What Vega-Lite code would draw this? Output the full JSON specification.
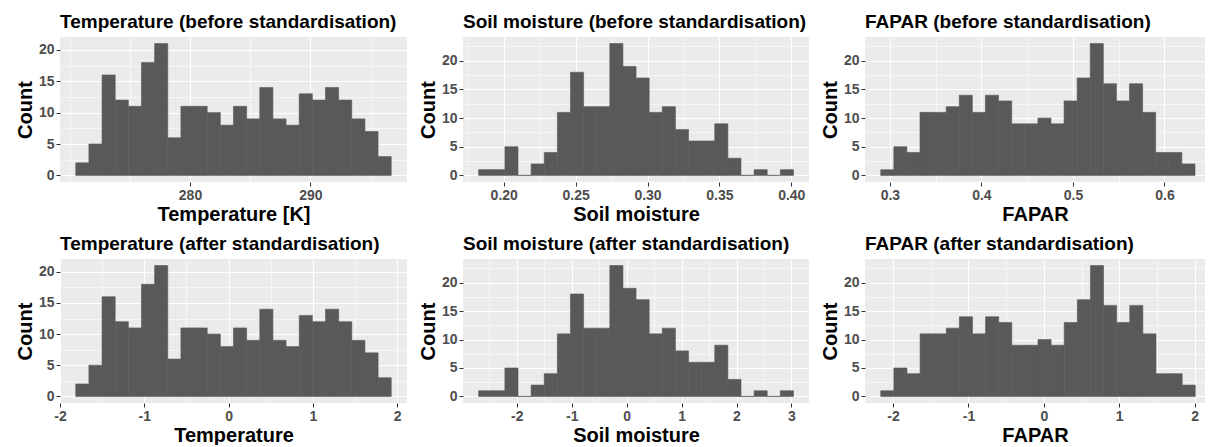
{
  "$schema": "https://vega.github.io/schema/vega-lite/v6.json",
  "background": "white",
  "padding": {"left": 15, "top": 13, "right": 0, "bottom": 0},
  "spacing": 11,
  "datasets": {
    "temp": [
      {"raw_start": 270.510, "raw_end": 271.602, "z_start": -1.813, "z_end": -1.657, "count": 2},
      {"raw_start": 271.602, "raw_end": 272.694, "z_start": -1.657, "z_end": -1.501, "count": 5},
      {"raw_start": 272.694, "raw_end": 273.786, "z_start": -1.501, "z_end": -1.345, "count": 16},
      {"raw_start": 273.786, "raw_end": 274.878, "z_start": -1.345, "z_end": -1.189, "count": 12},
      {"raw_start": 274.878, "raw_end": 275.970, "z_start": -1.189, "z_end": -1.033, "count": 11},
      {"raw_start": 275.970, "raw_end": 277.062, "z_start": -1.033, "z_end": -0.877, "count": 18},
      {"raw_start": 277.062, "raw_end": 278.154, "z_start": -0.877, "z_end": -0.721, "count": 21},
      {"raw_start": 278.154, "raw_end": 279.246, "z_start": -0.721, "z_end": -0.565, "count": 6},
      {"raw_start": 279.246, "raw_end": 280.338, "z_start": -0.565, "z_end": -0.409, "count": 11},
      {"raw_start": 280.338, "raw_end": 281.430, "z_start": -0.409, "z_end": -0.253, "count": 11},
      {"raw_start": 281.430, "raw_end": 282.522, "z_start": -0.253, "z_end": -0.097, "count": 10},
      {"raw_start": 282.522, "raw_end": 283.614, "z_start": -0.097, "z_end": 0.059, "count": 8},
      {"raw_start": 283.614, "raw_end": 284.706, "z_start": 0.059, "z_end": 0.215, "count": 11},
      {"raw_start": 284.706, "raw_end": 285.798, "z_start": 0.215, "z_end": 0.371, "count": 9},
      {"raw_start": 285.798, "raw_end": 286.890, "z_start": 0.371, "z_end": 0.527, "count": 14},
      {"raw_start": 286.890, "raw_end": 287.982, "z_start": 0.527, "z_end": 0.683, "count": 9},
      {"raw_start": 287.982, "raw_end": 289.074, "z_start": 0.683, "z_end": 0.839, "count": 8},
      {"raw_start": 289.074, "raw_end": 290.166, "z_start": 0.839, "z_end": 0.995, "count": 13},
      {"raw_start": 290.166, "raw_end": 291.258, "z_start": 0.995, "z_end": 1.151, "count": 12},
      {"raw_start": 291.258, "raw_end": 292.350, "z_start": 1.151, "z_end": 1.307, "count": 14},
      {"raw_start": 292.350, "raw_end": 293.442, "z_start": 1.307, "z_end": 1.463, "count": 12},
      {"raw_start": 293.442, "raw_end": 294.534, "z_start": 1.463, "z_end": 1.619, "count": 9},
      {"raw_start": 294.534, "raw_end": 295.626, "z_start": 1.619, "z_end": 1.775, "count": 7},
      {"raw_start": 295.626, "raw_end": 296.718, "z_start": 1.775, "z_end": 1.931, "count": 3}
    ],
    "soil": [
      {"raw_start": 0.18255, "raw_end": 0.19167, "z_start": -2.6950, "z_end": -2.4562, "count": 1},
      {"raw_start": 0.19167, "raw_end": 0.20080, "z_start": -2.4562, "z_end": -2.2173, "count": 1},
      {"raw_start": 0.20080, "raw_end": 0.20992, "z_start": -2.2173, "z_end": -1.9785, "count": 5},
      {"raw_start": 0.20992, "raw_end": 0.21904, "z_start": -1.9785, "z_end": -1.7397, "count": 0},
      {"raw_start": 0.21904, "raw_end": 0.22817, "z_start": -1.7397, "z_end": -1.5008, "count": 2},
      {"raw_start": 0.22817, "raw_end": 0.23729, "z_start": -1.5008, "z_end": -1.2620, "count": 4},
      {"raw_start": 0.23729, "raw_end": 0.24641, "z_start": -1.2620, "z_end": -1.0232, "count": 11},
      {"raw_start": 0.24641, "raw_end": 0.25553, "z_start": -1.0232, "z_end": -0.7843, "count": 18},
      {"raw_start": 0.25553, "raw_end": 0.26466, "z_start": -0.7843, "z_end": -0.5455, "count": 12},
      {"raw_start": 0.26466, "raw_end": 0.27378, "z_start": -0.5455, "z_end": -0.3067, "count": 12},
      {"raw_start": 0.27378, "raw_end": 0.28290, "z_start": -0.3067, "z_end": -0.0678, "count": 23},
      {"raw_start": 0.28290, "raw_end": 0.29203, "z_start": -0.0678, "z_end": 0.1710, "count": 19},
      {"raw_start": 0.29203, "raw_end": 0.30115, "z_start": 0.1710, "z_end": 0.4098, "count": 17},
      {"raw_start": 0.30115, "raw_end": 0.31027, "z_start": 0.4098, "z_end": 0.6487, "count": 11},
      {"raw_start": 0.31027, "raw_end": 0.31940, "z_start": 0.6487, "z_end": 0.8875, "count": 12},
      {"raw_start": 0.31940, "raw_end": 0.32852, "z_start": 0.8875, "z_end": 1.1263, "count": 8},
      {"raw_start": 0.32852, "raw_end": 0.33764, "z_start": 1.1263, "z_end": 1.3652, "count": 6},
      {"raw_start": 0.33764, "raw_end": 0.34676, "z_start": 1.3652, "z_end": 1.6040, "count": 6},
      {"raw_start": 0.34676, "raw_end": 0.35589, "z_start": 1.6040, "z_end": 1.8428, "count": 9},
      {"raw_start": 0.35589, "raw_end": 0.36501, "z_start": 1.8428, "z_end": 2.0817, "count": 3},
      {"raw_start": 0.36501, "raw_end": 0.37413, "z_start": 2.0817, "z_end": 2.3205, "count": 0},
      {"raw_start": 0.37413, "raw_end": 0.38326, "z_start": 2.3205, "z_end": 2.5593, "count": 1},
      {"raw_start": 0.38326, "raw_end": 0.39238, "z_start": 2.5593, "z_end": 2.7982, "count": 0},
      {"raw_start": 0.39238, "raw_end": 0.40150, "z_start": 2.7982, "z_end": 3.0370, "count": 1}
    ],
    "fapar": [
      {"raw_start": 0.2900, "raw_end": 0.3043, "z_start": -2.1630, "z_end": -1.9892, "count": 1},
      {"raw_start": 0.3043, "raw_end": 0.3186, "z_start": -1.9892, "z_end": -1.8153, "count": 5},
      {"raw_start": 0.3186, "raw_end": 0.3329, "z_start": -1.8153, "z_end": -1.6415, "count": 4},
      {"raw_start": 0.3329, "raw_end": 0.3472, "z_start": -1.6415, "z_end": -1.4677, "count": 11},
      {"raw_start": 0.3472, "raw_end": 0.3615, "z_start": -1.4677, "z_end": -1.2938, "count": 11},
      {"raw_start": 0.3615, "raw_end": 0.3758, "z_start": -1.2938, "z_end": -1.1200, "count": 12},
      {"raw_start": 0.3758, "raw_end": 0.3901, "z_start": -1.1200, "z_end": -0.9462, "count": 14},
      {"raw_start": 0.3901, "raw_end": 0.4044, "z_start": -0.9462, "z_end": -0.7723, "count": 11},
      {"raw_start": 0.4044, "raw_end": 0.4187, "z_start": -0.7723, "z_end": -0.5985, "count": 14},
      {"raw_start": 0.4187, "raw_end": 0.4331, "z_start": -0.5985, "z_end": -0.4247, "count": 13},
      {"raw_start": 0.4331, "raw_end": 0.4474, "z_start": -0.4247, "z_end": -0.2508, "count": 9},
      {"raw_start": 0.4474, "raw_end": 0.4617, "z_start": -0.2508, "z_end": -0.0770, "count": 9},
      {"raw_start": 0.4617, "raw_end": 0.4760, "z_start": -0.0770, "z_end": 0.0968, "count": 10},
      {"raw_start": 0.4760, "raw_end": 0.4903, "z_start": 0.0968, "z_end": 0.2707, "count": 9},
      {"raw_start": 0.4903, "raw_end": 0.5046, "z_start": 0.2707, "z_end": 0.4445, "count": 13},
      {"raw_start": 0.5046, "raw_end": 0.5189, "z_start": 0.4445, "z_end": 0.6183, "count": 17},
      {"raw_start": 0.5189, "raw_end": 0.5332, "z_start": 0.6183, "z_end": 0.7922, "count": 23},
      {"raw_start": 0.5332, "raw_end": 0.5475, "z_start": 0.7922, "z_end": 0.9660, "count": 16},
      {"raw_start": 0.5475, "raw_end": 0.5618, "z_start": 0.9660, "z_end": 1.1398, "count": 13},
      {"raw_start": 0.5618, "raw_end": 0.5761, "z_start": 1.1398, "z_end": 1.3137, "count": 16},
      {"raw_start": 0.5761, "raw_end": 0.5904, "z_start": 1.3137, "z_end": 1.4875, "count": 11},
      {"raw_start": 0.5904, "raw_end": 0.6047, "z_start": 1.4875, "z_end": 1.6613, "count": 4},
      {"raw_start": 0.6047, "raw_end": 0.6190, "z_start": 1.6613, "z_end": 1.8352, "count": 4},
      {"raw_start": 0.6190, "raw_end": 0.6334, "z_start": 1.8352, "z_end": 2.0090, "count": 2}
    ]
  },
  "vconcat": [
    {
      "spacing": 11,
      "hconcat": [
        {
          "data": {"name": "temp"}, "width": 347, "height": 145,
          "title": "Temperature (before standardisation)",
          "mark": {"type": "rect", "color": "#595959", "stroke": "#595959", "strokeWidth": 0.6},
          "encoding": {
            "x": {"field": "raw_start", "type": "quantitative",
              "scale": {"domain": [269.2, 298.03], "nice": false, "zero": false},
              "axis": {"title": "Temperature [K]", "values": [270, 275, 280, 285, 290, 295],
                "labelExpr": "indexof([280,290], datum.value) >= 0 ? datum.label : ''",
                "gridWidth": {"condition": {"test": "indexof([280,290], datum.value) >= 0", "value": 1.1}, "value": 0.55},
                "tickOpacity": {"condition": {"test": "indexof([280,290], datum.value) >= 0", "value": 1}, "value": 0}}},
            "x2": {"field": "raw_end"},
            "y": {"field": "count", "type": "quantitative",
              "scale": {"domain": [-1.05, 22.05], "nice": false, "zero": false},
              "axis": {"title": "Count", "values": [0, 2.5, 5, 7.5, 10, 12.5, 15, 17.5, 20],
                "labelExpr": "datum.value % 5 === 0 ? datum.label : ''",
                "gridWidth": {"condition": {"test": "datum.value % 5 === 0", "value": 1.1}, "value": 0.55},
                "tickOpacity": {"condition": {"test": "datum.value % 5 === 0", "value": 1}, "value": 0}}},
            "y2": {"datum": 0}
          }
        },
        {
          "data": {"name": "soil"}, "width": 346, "height": 145,
          "title": "Soil moisture (before standardisation)",
          "mark": {"type": "rect", "color": "#595959", "stroke": "#595959", "strokeWidth": 0.6},
          "encoding": {
            "x": {"field": "raw_start", "type": "quantitative",
              "scale": {"domain": [0.17166, 0.41232], "nice": false, "zero": false},
              "axis": {"title": "Soil moisture", "values": [0.175, 0.2, 0.225, 0.25, 0.275, 0.3, 0.325, 0.35, 0.375, 0.4],
                "labelExpr": "indexof([0.2,0.25,0.3,0.35,0.4], datum.value) >= 0 ? format(datum.value, '.2f') : ''",
                "gridWidth": {"condition": {"test": "indexof([0.2,0.25,0.3,0.35,0.4], datum.value) >= 0", "value": 1.1}, "value": 0.55},
                "tickOpacity": {"condition": {"test": "indexof([0.2,0.25,0.3,0.35,0.4], datum.value) >= 0", "value": 1}, "value": 0}}},
            "x2": {"field": "raw_end"},
            "y": {"field": "count", "type": "quantitative",
              "scale": {"domain": [-1.15, 24.15], "nice": false, "zero": false},
              "axis": {"title": "Count", "values": [0, 2.5, 5, 7.5, 10, 12.5, 15, 17.5, 20, 22.5],
                "labelExpr": "datum.value % 5 === 0 ? datum.label : ''",
                "gridWidth": {"condition": {"test": "datum.value % 5 === 0", "value": 1.1}, "value": 0.55},
                "tickOpacity": {"condition": {"test": "datum.value % 5 === 0", "value": 1}, "value": 0}}},
            "y2": {"datum": 0}
          }
        },
        {
          "data": {"name": "fapar"}, "width": 340, "height": 145,
          "title": "FAPAR (before standardisation)",
          "mark": {"type": "rect", "color": "#595959", "stroke": "#595959", "strokeWidth": 0.6},
          "encoding": {
            "x": {"field": "raw_start", "type": "quantitative",
              "scale": {"domain": [0.2728, 0.6443], "nice": false, "zero": false},
              "axis": {"title": "FAPAR", "values": [0.3, 0.35, 0.4, 0.45, 0.5, 0.55, 0.6],
                "labelExpr": "indexof([0.3,0.4,0.5,0.6], datum.value) >= 0 ? format(datum.value, '.1f') : ''",
                "gridWidth": {"condition": {"test": "indexof([0.3,0.4,0.5,0.6], datum.value) >= 0", "value": 1.1}, "value": 0.55},
                "tickOpacity": {"condition": {"test": "indexof([0.3,0.4,0.5,0.6], datum.value) >= 0", "value": 1}, "value": 0}}},
            "x2": {"field": "raw_end"},
            "y": {"field": "count", "type": "quantitative",
              "scale": {"domain": [-1.15, 24.15], "nice": false, "zero": false},
              "axis": {"title": "Count", "values": [0, 2.5, 5, 7.5, 10, 12.5, 15, 17.5, 20, 22.5],
                "labelExpr": "datum.value % 5 === 0 ? datum.label : ''",
                "gridWidth": {"condition": {"test": "datum.value % 5 === 0", "value": 1.1}, "value": 0.55},
                "tickOpacity": {"condition": {"test": "datum.value % 5 === 0", "value": 1}, "value": 0}}},
            "y2": {"datum": 0}
          }
        }
      ]
    },
    {
      "spacing": 11,
      "hconcat": [
        {
          "data": {"name": "temp"}, "width": 347, "height": 144,
          "title": "Temperature (after standardisation)",
          "mark": {"type": "rect", "color": "#595959", "stroke": "#595959", "strokeWidth": 0.6},
          "encoding": {
            "x": {"field": "z_start", "type": "quantitative",
              "scale": {"domain": [-2.0, 2.118], "nice": false, "zero": false},
              "axis": {"title": "Temperature", "values": [-2, -1.5, -1, -0.5, 0, 0.5, 1, 1.5, 2],
                "labelExpr": "datum.value % 1 === 0 ? '' + datum.value : ''",
                "gridWidth": {"condition": {"test": "datum.value % 1 === 0", "value": 1.1}, "value": 0.55},
                "tickOpacity": {"condition": {"test": "datum.value % 1 === 0", "value": 1}, "value": 0}}},
            "x2": {"field": "z_end"},
            "y": {"field": "count", "type": "quantitative",
              "scale": {"domain": [-1.05, 22.05], "nice": false, "zero": false},
              "axis": {"title": "Count", "values": [0, 2.5, 5, 7.5, 10, 12.5, 15, 17.5, 20],
                "labelExpr": "datum.value % 5 === 0 ? datum.label : ''",
                "gridWidth": {"condition": {"test": "datum.value % 5 === 0", "value": 1.1}, "value": 0.55},
                "tickOpacity": {"condition": {"test": "datum.value % 5 === 0", "value": 1}, "value": 0}}},
            "y2": {"datum": 0}
          }
        },
        {
          "data": {"name": "soil"}, "width": 346, "height": 144,
          "title": "Soil moisture (after standardisation)",
          "mark": {"type": "rect", "color": "#595959", "stroke": "#595959", "strokeWidth": 0.6},
          "encoding": {
            "x": {"field": "z_start", "type": "quantitative",
              "scale": {"domain": [-2.98, 3.32], "nice": false, "zero": false},
              "axis": {"title": "Soil moisture", "values": [-3, -2.5, -2, -1.5, -1, -0.5, 0, 0.5, 1, 1.5, 2, 2.5, 3],
                "labelExpr": "datum.value % 1 === 0 ? '' + datum.value : ''",
                "gridWidth": {"condition": {"test": "datum.value % 1 === 0", "value": 1.1}, "value": 0.55},
                "tickOpacity": {"condition": {"test": "datum.value % 1 === 0", "value": 1}, "value": 0}}},
            "x2": {"field": "z_end"},
            "y": {"field": "count", "type": "quantitative",
              "scale": {"domain": [-1.15, 24.15], "nice": false, "zero": false},
              "axis": {"title": "Count", "values": [0, 2.5, 5, 7.5, 10, 12.5, 15, 17.5, 20, 22.5],
                "labelExpr": "datum.value % 5 === 0 ? datum.label : ''",
                "gridWidth": {"condition": {"test": "datum.value % 5 === 0", "value": 1.1}, "value": 0.55},
                "tickOpacity": {"condition": {"test": "datum.value % 5 === 0", "value": 1}, "value": 0}}},
            "y2": {"datum": 0}
          }
        },
        {
          "data": {"name": "fapar"}, "width": 340, "height": 144,
          "title": "FAPAR (after standardisation)",
          "mark": {"type": "rect", "color": "#595959", "stroke": "#595959", "strokeWidth": 0.6},
          "encoding": {
            "x": {"field": "z_start", "type": "quantitative",
              "scale": {"domain": [-2.372, 2.138], "nice": false, "zero": false},
              "axis": {"title": "FAPAR", "values": [-2, -1.5, -1, -0.5, 0, 0.5, 1, 1.5, 2],
                "labelExpr": "datum.value % 1 === 0 ? '' + datum.value : ''",
                "gridWidth": {"condition": {"test": "datum.value % 1 === 0", "value": 1.1}, "value": 0.55},
                "tickOpacity": {"condition": {"test": "datum.value % 1 === 0", "value": 1}, "value": 0}}},
            "x2": {"field": "z_end"},
            "y": {"field": "count", "type": "quantitative",
              "scale": {"domain": [-1.15, 24.15], "nice": false, "zero": false},
              "axis": {"title": "Count", "values": [0, 2.5, 5, 7.5, 10, 12.5, 15, 17.5, 20, 22.5],
                "labelExpr": "datum.value % 5 === 0 ? datum.label : ''",
                "gridWidth": {"condition": {"test": "datum.value % 5 === 0", "value": 1.1}, "value": 0.55},
                "tickOpacity": {"condition": {"test": "datum.value % 5 === 0", "value": 1}, "value": 0}}},
            "y2": {"datum": 0}
          }
        }
      ]
    }
  ],
  "config": {
    "view": {"fill": "#EBEBEB", "stroke": null},
    "axis": {
      "domain": false, "grid": true, "gridColor": "#FFFFFF",
      "tickColor": "#333333", "tickSize": 4, "tickWidth": 1,
      "labelFont": "Liberation Sans", "labelFontSize": 14, "labelFontWeight": "bold", "labelColor": "#4D4D4D",
      "labelPadding": 2, "labelOverlap": false, "labelFlush": false,
      "titleFont": "Liberation Sans", "titleFontSize": 20, "titleFontWeight": "bold", "titleColor": "#000000",
      "titlePadding": 3
    },
    "axisX": {"titlePadding": 2},
    "title": {"font": "Liberation Sans", "fontSize": 19, "fontWeight": "bold", "color": "#000000",
      "anchor": "start", "frame": "group", "offset": 5}
  }
}
